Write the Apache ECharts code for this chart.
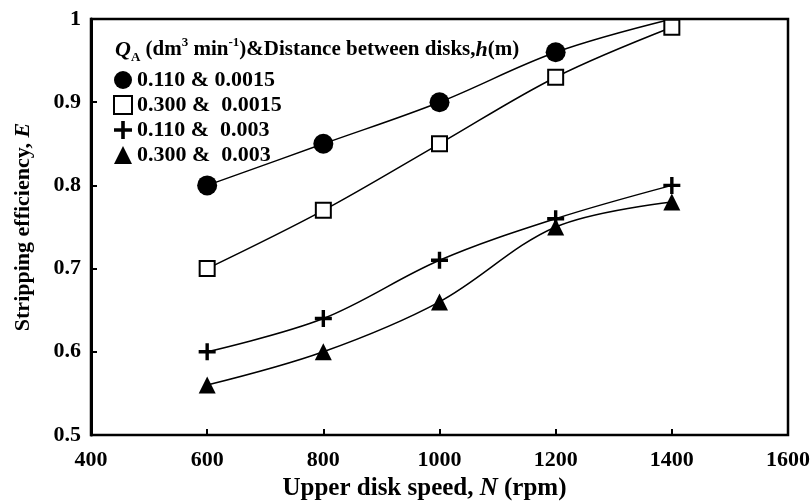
<!DOCTYPE html>
<html>
<head>
<meta charset="utf-8">
<script src="https://cdn.jsdelivr.net/npm/echarts@6/dist/echarts.min.js"></script>
<style>
  html, body { margin: 0; padding: 0; background: #fff; }
  #chart { width: 812px; height: 502px; }
</style>
</head>
<body>
<div id="chart"></div>
<script>
// Upper disk speed N (rpm)
const speeds = [600, 800, 1000, 1200, 1400];

// Stripping efficiency E for each flow rate & disk spacing
const seriesNames = ['0.110 & 0.0015', '0.300 &  0.0015', '0.110 &  0.003', '0.300 &  0.003'];
const effA = [0.80, 0.85, 0.90, 0.96, 1.00];
const effB = [0.70, 0.77, 0.85, 0.93, 0.99];
const effC = [0.60, 0.64, 0.71, 0.76, 0.80];
const effD = [0.56, 0.60, 0.66, 0.75, 0.78];

const FONT = '"Liberation Serif", "Times New Roman", serif';
const PLUS = 'path://M4,0H6V4H10V6H6V10H4V6H0V4H4Z';

function pairs(vals) {
  return speeds.map((x, i) => [x, vals[i]]);
}

const baseLine = { color: '#000', width: 1.5 };

const series = [
  {
    name: seriesNames[0], type: 'line', smooth: 0.35,
    data: pairs(effA).map((p, i) => i === 4 ? { value: p, symbol: 'none' } : p),
    symbol: 'circle', symbolSize: 20,
    itemStyle: { color: '#000' }, lineStyle: baseLine, z: 2
  },
  {
    name: seriesNames[1], type: 'line', smooth: 0.35, data: pairs(effB),
    symbol: 'rect', symbolSize: 15,
    itemStyle: { color: '#fff', borderColor: '#000', borderWidth: 2 }, lineStyle: baseLine, z: 3
  },
  {
    name: seriesNames[2], type: 'line', smooth: 0.35, data: pairs(effC),
    symbol: PLUS, symbolSize: 17,
    itemStyle: { color: '#000' }, lineStyle: baseLine, z: 3
  },
  {
    name: seriesNames[3], type: 'line', smooth: 0.35, data: pairs(effD),
    symbol: 'triangle', symbolSize: 17,
    itemStyle: { color: '#000' }, lineStyle: baseLine, z: 3
  }
];

const chart = echarts.init(document.getElementById('chart'), null, { renderer: 'canvas' });
chart.setOption({
  animation: false,
  backgroundColor: '#fff',
  title: {
    left: 110, top: 31,
    text: '{q|Q}{sub|A}{t| (dm}{sup|3}{t| min}{sup|-1}{t|)&Distance between disks,}{q|h}{t|(m)}',
    textStyle: {
      rich: {
        t: { fontFamily: FONT, fontWeight: 'bold', fontSize: 21, color: '#000', lineHeight: 28, verticalAlign: 'middle' },
        q: { fontFamily: FONT, fontWeight: 'bold', fontStyle: 'italic', fontSize: 22, color: '#000', lineHeight: 28, verticalAlign: 'middle' },
        sub: { fontFamily: FONT, fontWeight: 'bold', fontSize: 13, color: '#000', lineHeight: 28, verticalAlign: 'bottom' },
        sup: { fontFamily: FONT, fontWeight: 'bold', fontSize: 13, color: '#000', lineHeight: 28, verticalAlign: 'top' }
      }
    }
  },
  legend: {
    orient: 'vertical', left: 108, top: 64,
    itemWidth: 18, itemHeight: 18, itemGap: 3,
    textStyle: { fontFamily: FONT, fontWeight: 'bold', fontSize: 22, color: '#000' },
    data: [
      { name: seriesNames[0], icon: 'circle' },
      { name: seriesNames[1], icon: 'rect', itemStyle: { color: '#fff', borderColor: '#000', borderWidth: 2 } },
      { name: seriesNames[2], icon: PLUS },
      { name: seriesNames[3], icon: 'triangle' }
    ]
  },
  grid: {
    left: 91, right: 24, top: 19, bottom: 67,
    outerBoundsMode: 'none', containLabel: false,
    show: true, borderColor: '#000', borderWidth: 2.5, backgroundColor: 'transparent'
  },
  xAxis: {
    type: 'value', min: 400, max: 1600, interval: 200,
    name: 'Upper disk speed, {i|N} (rpm)',
    nameLocation: 'middle', nameGap: 41,
    nameTextStyle: {
      fontFamily: FONT, fontWeight: 'bold', fontSize: 25, color: '#000',
      padding: [0, 30, 0, 0],
      rich: { i: { fontFamily: FONT, fontWeight: 'bold', fontStyle: 'italic', fontSize: 25, color: '#000' } }
    },
    axisLine: { show: true, onZero: false, lineStyle: { color: '#000', width: 2 } },
    axisTick: { show: true, inside: true, length: 6, lineStyle: { color: '#000', width: 2 } },
    axisLabel: {
      fontFamily: FONT, fontWeight: 'bold', fontSize: 22, color: '#000', margin: 14,
      formatter: v => String(v)
    },
    splitLine: { show: false }
  },
  yAxis: {
    type: 'value', min: 0.5, max: 1, interval: 0.1,
    name: 'Stripping efficiency, {i|E}',
    nameLocation: 'middle', nameGap: 57,
    nameTextStyle: {
      fontFamily: FONT, fontWeight: 'bold', fontSize: 22, color: '#000',
      rich: { i: { fontFamily: FONT, fontWeight: 'bold', fontStyle: 'italic', fontSize: 22, color: '#000' } }
    },
    axisLine: { show: true, onZero: false, lineStyle: { color: '#000', width: 3 } },
    axisTick: { show: true, inside: true, length: 6, lineStyle: { color: '#000', width: 2 } },
    axisLabel: {
      fontFamily: FONT, fontWeight: 'bold', fontSize: 22, color: '#000', margin: 10,
      formatter: v => (Math.round(v * 10) / 10).toString()
    },
    splitLine: { show: false }
  },
  series: series
});
</script>
</body>
</html>
